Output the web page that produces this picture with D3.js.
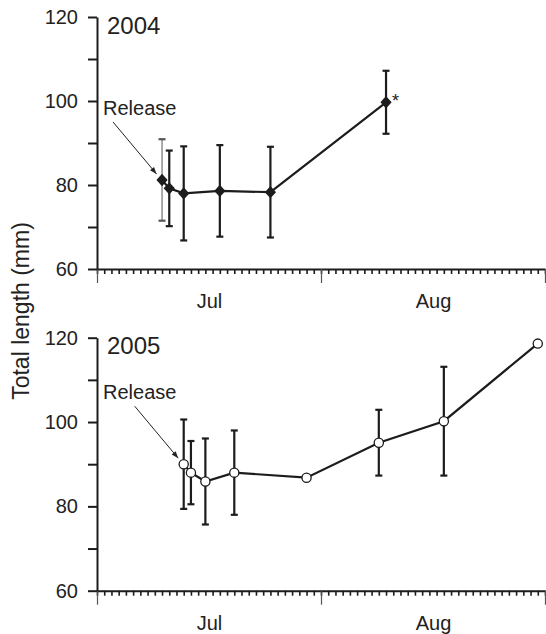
<!DOCTYPE html>
<html>
<head>
<meta charset="utf-8">
<script src="https://cdn.jsdelivr.net/npm/d3@7"></script>
<style>
  body { margin: 0; background: #fff; }
  svg { display: block; font-family: "Liberation Sans", Arial, sans-serif; }
</style>
</head>
<body>
<svg id="chart" width="546" height="634"></svg>
<script>
// 2004 samples (mean +/- error)
const dates2004 = ["2004-07-10", "2004-07-11", "2004-07-13", "2004-07-18", "2004-07-25", "2004-08-10"];
const mean2004 = [81.2, 79.2, 78.0, 78.6, 78.3, 99.7];
const err2004 = [9.7, 9.0, 11.2, 10.9, 10.8, 7.5];

// 2005 samples
const dates2005 = ["2005-07-13", "2005-07-14", "2005-07-16", "2005-07-20", "2005-07-30", "2005-08-09", "2005-08-18", "2005-08-31"];
const mean2005 = [90.0, 88.0, 85.9, 88.0, 86.8, 95.1, 100.2, 118.6];
const err2005 = [10.6, 7.5, 10.2, 10.0, null, 7.8, 12.9, null];

const yTicks = [60, 70, 80, 90, 100, 110, 120];
const yLabels = [60, 80, 100, 120];
const monthLabels = ["Jul", "Aug"];

const parse = d3.timeParse("%Y-%m-%d");
const svg = d3.select("#chart");
const ink = "#1c1c1c";

drawPanel({year: 2004, dates: dates2004, means: mean2004, errs: err2004, top: 17, bottom: 269, marker: "diamond", star: true});
drawPanel({year: 2005, dates: dates2005, means: mean2005, errs: err2005, top: 337.7, bottom: 590.7, marker: "circle", star: false});

// shared y title
svg.append("text")
    .attr("transform", "translate(29,311) rotate(-90)")
    .attr("text-anchor", "middle")
    .attr("font-size", 23)
    .attr("fill", "#222")
    .text("Total length (mm)");

function drawPanel(o) {
    let x = d3.scaleTime()
        .domain([new Date(o.year, 6, 1), new Date(o.year, 8, 1)])
        .range([97, 545]);
    let y = d3.scaleLinear().domain([60, 120]).range([o.bottom, o.top]);
    let g = svg.append("g");

    let pts = o.dates.map((d, i) => ({date: parse(d), mean: o.means[i], err: o.errs[i], i: i}));

    // daily minor ticks
    let xAxis = g.append("g")
        .attr("transform", `translate(0,${o.bottom})`)
        .call(d3.axisBottom(x).ticks(d3.timeDay.every(1)).tickSize(5).tickSizeOuter(0).tickFormat(""));
    xAxis.select(".domain").attr("stroke", ink).attr("stroke-width", 2);
    xAxis.selectAll(".tick line").attr("stroke", ink).attr("stroke-width", 1.6);

    // month boundaries
    let mAxis = g.append("g")
        .attr("transform", `translate(0,${o.bottom})`)
        .call(d3.axisBottom(x).ticks(d3.timeMonth.every(1)).tickSize(14).tickSizeOuter(0).tickFormat(""));
    mAxis.select(".domain").remove();
    mAxis.selectAll(".tick line").attr("stroke", "#555").attr("stroke-width", 1.2);

    // month names, mid-month
    let mids = monthLabels.map((m, i) => new Date(o.year, 6 + i, 16, 12));
    let lAxis = g.append("g")
        .attr("transform", `translate(0,${o.bottom})`)
        .call(d3.axisBottom(x).tickValues(mids).tickSize(0).tickPadding(25)
            .tickFormat((d, i) => monthLabels[i]));
    lAxis.select(".domain").remove();
    lAxis.selectAll("text").attr("font-size", 20).attr("fill", "#222").attr("font-family", null);

    // y axis
    let yAxis = g.append("g")
        .attr("transform", "translate(97,0)")
        .call(d3.axisLeft(y).tickValues(yTicks).tickSize(9).tickPadding(10).tickSizeOuter(0)
            .tickFormat(d => yLabels.includes(d) ? d : ""));
    yAxis.select(".domain").attr("stroke", ink).attr("stroke-width", 2);
    yAxis.selectAll(".tick line").attr("stroke", ink).attr("stroke-width", 2);
    yAxis.selectAll("text").attr("font-size", 20).attr("fill", "#222").attr("font-family", null);

    // error bars (first 2004 bar is drawn faint in the original)
    let bars = g.append("g").selectAll("g")
        .data(pts.filter(d => d.err != null))
        .join("g")
        .attr("stroke", d => (o.star && d.i === 0) ? "#555" : ink)
        .attr("stroke-width", d => (o.star && d.i === 0) ? 1 : 2.2);
    bars.append("line")
        .attr("x1", d => x(d.date)).attr("x2", d => x(d.date))
        .attr("y1", d => y(d.mean - d.err)).attr("y2", d => y(d.mean + d.err));
    bars.append("line")
        .attr("stroke-width", 2.2)
        .attr("x1", d => x(d.date) - 3.5).attr("x2", d => x(d.date) + 3.5)
        .attr("y1", d => y(d.mean + d.err)).attr("y2", d => y(d.mean + d.err));
    bars.append("line")
        .attr("stroke-width", 2.2)
        .attr("x1", d => x(d.date) - 3.5).attr("x2", d => x(d.date) + 3.5)
        .attr("y1", d => y(d.mean - d.err)).attr("y2", d => y(d.mean - d.err));

    // connecting line
    g.append("path")
        .datum(pts)
        .attr("fill", "none")
        .attr("stroke", ink)
        .attr("stroke-width", 2.2)
        .attr("d", d3.line().x(d => x(d.date)).y(d => y(d.mean)));

    // markers
    if (o.marker === "diamond") {
        g.append("g").selectAll("path")
            .data(pts)
            .join("path")
            .attr("transform", d => `translate(${x(d.date)},${y(d.mean)})`)
            .attr("d", "M0,-6.2L5.6,0L0,6.2L-5.6,0Z")
            .attr("fill", ink);
    } else {
        g.append("g").selectAll("circle")
            .data(pts)
            .join("circle")
            .attr("cx", d => x(d.date)).attr("cy", d => y(d.mean))
            .attr("r", 4.6)
            .attr("fill", "#fff")
            .attr("stroke", ink)
            .attr("stroke-width", 1.3);
    }

    // year label
    g.append("text")
        .attr("x", 107).attr("y", o.top + 16.5)
        .attr("font-size", 24)
        .attr("fill", "#222")
        .text(o.year);

    // release annotation, pointing at the first sample
    let fx = x(pts[0].date), fy = y(pts[0].mean);
    g.append("text")
        .attr("x", 103).attr("y", fy - 65)
        .attr("font-size", 20)
        .attr("fill", "#222")
        .text("Release");
    let ax0 = o.star ? 113 : fx - 49, ay0 = fy - 58;
    let ax1 = fx - 5.5, ay1 = fy - 6;
    g.append("line")
        .attr("x1", ax0).attr("y1", ay0).attr("x2", ax1).attr("y2", ay1)
        .attr("stroke", "#222").attr("stroke-width", 1);
    let ang = Math.atan2(ay1 - ay0, ax1 - ax0);
    let hl = 7, hw = 2.6;
    let bx = ax1 - hl * Math.cos(ang), by = ay1 - hl * Math.sin(ang);
    g.append("path")
        .attr("d", `M${ax1},${ay1}L${bx - hw * Math.sin(ang)},${by + hw * Math.cos(ang)}L${bx + hw * Math.sin(ang)},${by - hw * Math.cos(ang)}Z`)
        .attr("fill", "#222");

    // significance mark on the last 2004 sample
    if (o.star) {
        let last = pts[pts.length - 1];
        g.append("text")
            .attr("x", x(last.date) + 6).attr("y", y(last.mean) + 5)
            .attr("font-size", 18)
            .attr("fill", "#222")
            .text("*");
    }
}
</script>
</body>
</html>
